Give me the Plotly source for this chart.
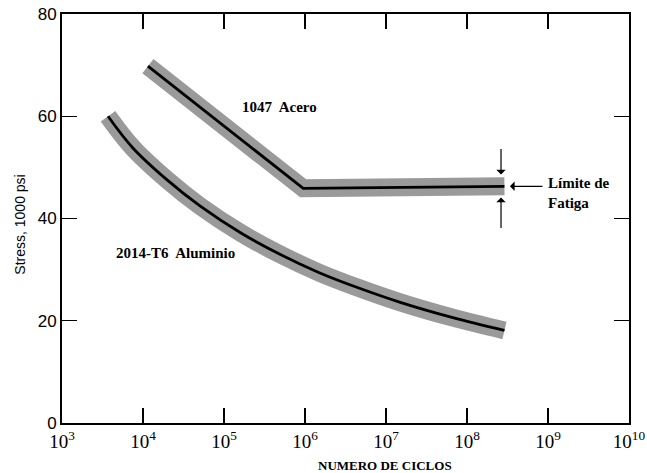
import plotly.graph_objects as go

# ---- data ----
alum_cycles = [3.7e3, 7.5e3, 2.0e4, 5.1e4, 1.6e5, 4.9e5, 1.5e6, 4.8e6, 1.5e7, 6.7e7, 2.9e8]
alum_stress = [60.0, 53.8, 47.5, 42.4, 37.2, 33.0, 29.4, 26.3, 23.6, 20.6, 18.1]

steel_cycles = [1.15e4, 9.5e5, 2.9e8]
steel_stress = [69.8, 45.9, 46.3]

x_tick_vals = [1e3, 1e4, 1e5, 1e6, 1e7, 1e8, 1e9, 1e10]
x_tick_text = ["10<sup>3</sup>", "10<sup>4</sup>", "10<sup>5</sup>", "10<sup>6</sup>",
               "10<sup>7</sup>", "10<sup>8</sup>", "10<sup>9</sup>", "10<sup>10</sup>"]
y_tick_vals = [0, 20, 40, 60, 80]

BAND = "#9a9a9a"
SERIF = "Liberation Serif"
SANS = "Liberation Sans"

fig = go.Figure()
for xs, ys, shape in [(alum_cycles, alum_stress, "spline"), (steel_cycles, steel_stress, "linear")]:
    fig.add_trace(go.Scatter(x=xs, y=ys, mode="lines",
                             line=dict(color=BAND, width=18, shape=shape),
                             hoverinfo="skip", showlegend=False))
    fig.add_trace(go.Scatter(x=xs, y=ys, mode="lines",
                             line=dict(color="black", width=2.8, shape=shape),
                             hoverinfo="skip", showlegend=False))

ann_font = dict(family=SERIF, size=15, color="black")
annotations = [
    dict(x=5.68, y=61.8, text="<b>1047  Acero</b>", showarrow=False, font=ann_font),
    dict(x=4.40, y=33.3, text="<b>2014-T6  Aluminio</b>", showarrow=False, font=ann_font),
    dict(x=8.98, y=44.9, text="<b>Límite de<br>Fatiga</b>", showarrow=False, font=ann_font,
         xanchor="left", align="left"),
    # left-pointing arrow to band end
    dict(x=8.53, y=46.3, ax=34, ay=0, text="", showarrow=True, arrowhead=1,
         arrowsize=1.3, arrowwidth=1.2, arrowcolor="black"),
    # down arrow above band
    dict(x=8.42, y=48.6, ax=0, ay=-27, text="", showarrow=True, arrowhead=1,
         arrowsize=1.3, arrowwidth=1.2, arrowcolor="black"),
    # up arrow below band
    dict(x=8.42, y=44.1, ax=0, ay=32, text="", showarrow=True, arrowhead=1,
         arrowsize=1.3, arrowwidth=1.2, arrowcolor="black"),
    # axis titles
    dict(xref="paper", yref="paper", x=0.57, y=-0.103, xanchor="center", yanchor="middle",
         text="<b>NUMERO DE CICLOS</b>",
         showarrow=False, font=dict(family=SERIF, size=13, color="black")),
    dict(xref="paper", yref="paper", x=-0.074, y=0.485, xanchor="center", yanchor="middle",
         text="Stress, 1000 psi",
         textangle=-90, showarrow=False, font=dict(family=SANS, size=14, color="black")),
]

fig.update_layout(
    width=647, height=473,
    margin=dict(l=62, r=18, t=14, b=50, autoexpand=False),
    paper_bgcolor="white", plot_bgcolor="white",
    annotations=annotations,
    xaxis=dict(type="log", range=[3, 10], tickvals=x_tick_vals, ticktext=x_tick_text,
               ticks="inside", ticklen=15, tickwidth=1.4, tickcolor="black",
               showline=True, linecolor="black", linewidth=2, mirror="ticks",
               showgrid=False, zeroline=False,
               tickfont=dict(family=SERIF, size=19, color="black")),
    yaxis=dict(range=[0, 80], tickvals=y_tick_vals,
               ticks="inside", ticklen=15, tickwidth=1.4, tickcolor="black",
               showline=True, linecolor="black", linewidth=2, mirror="ticks",
               showgrid=False, zeroline=False,
               tickfont=dict(family=SANS, size=17, color="black")),
)

fig.write_html("out.html", config={"displayModeBar": False, "staticPlot": True},
               post_script="document.body.style.margin='0';document.body.style.padding='0';")
